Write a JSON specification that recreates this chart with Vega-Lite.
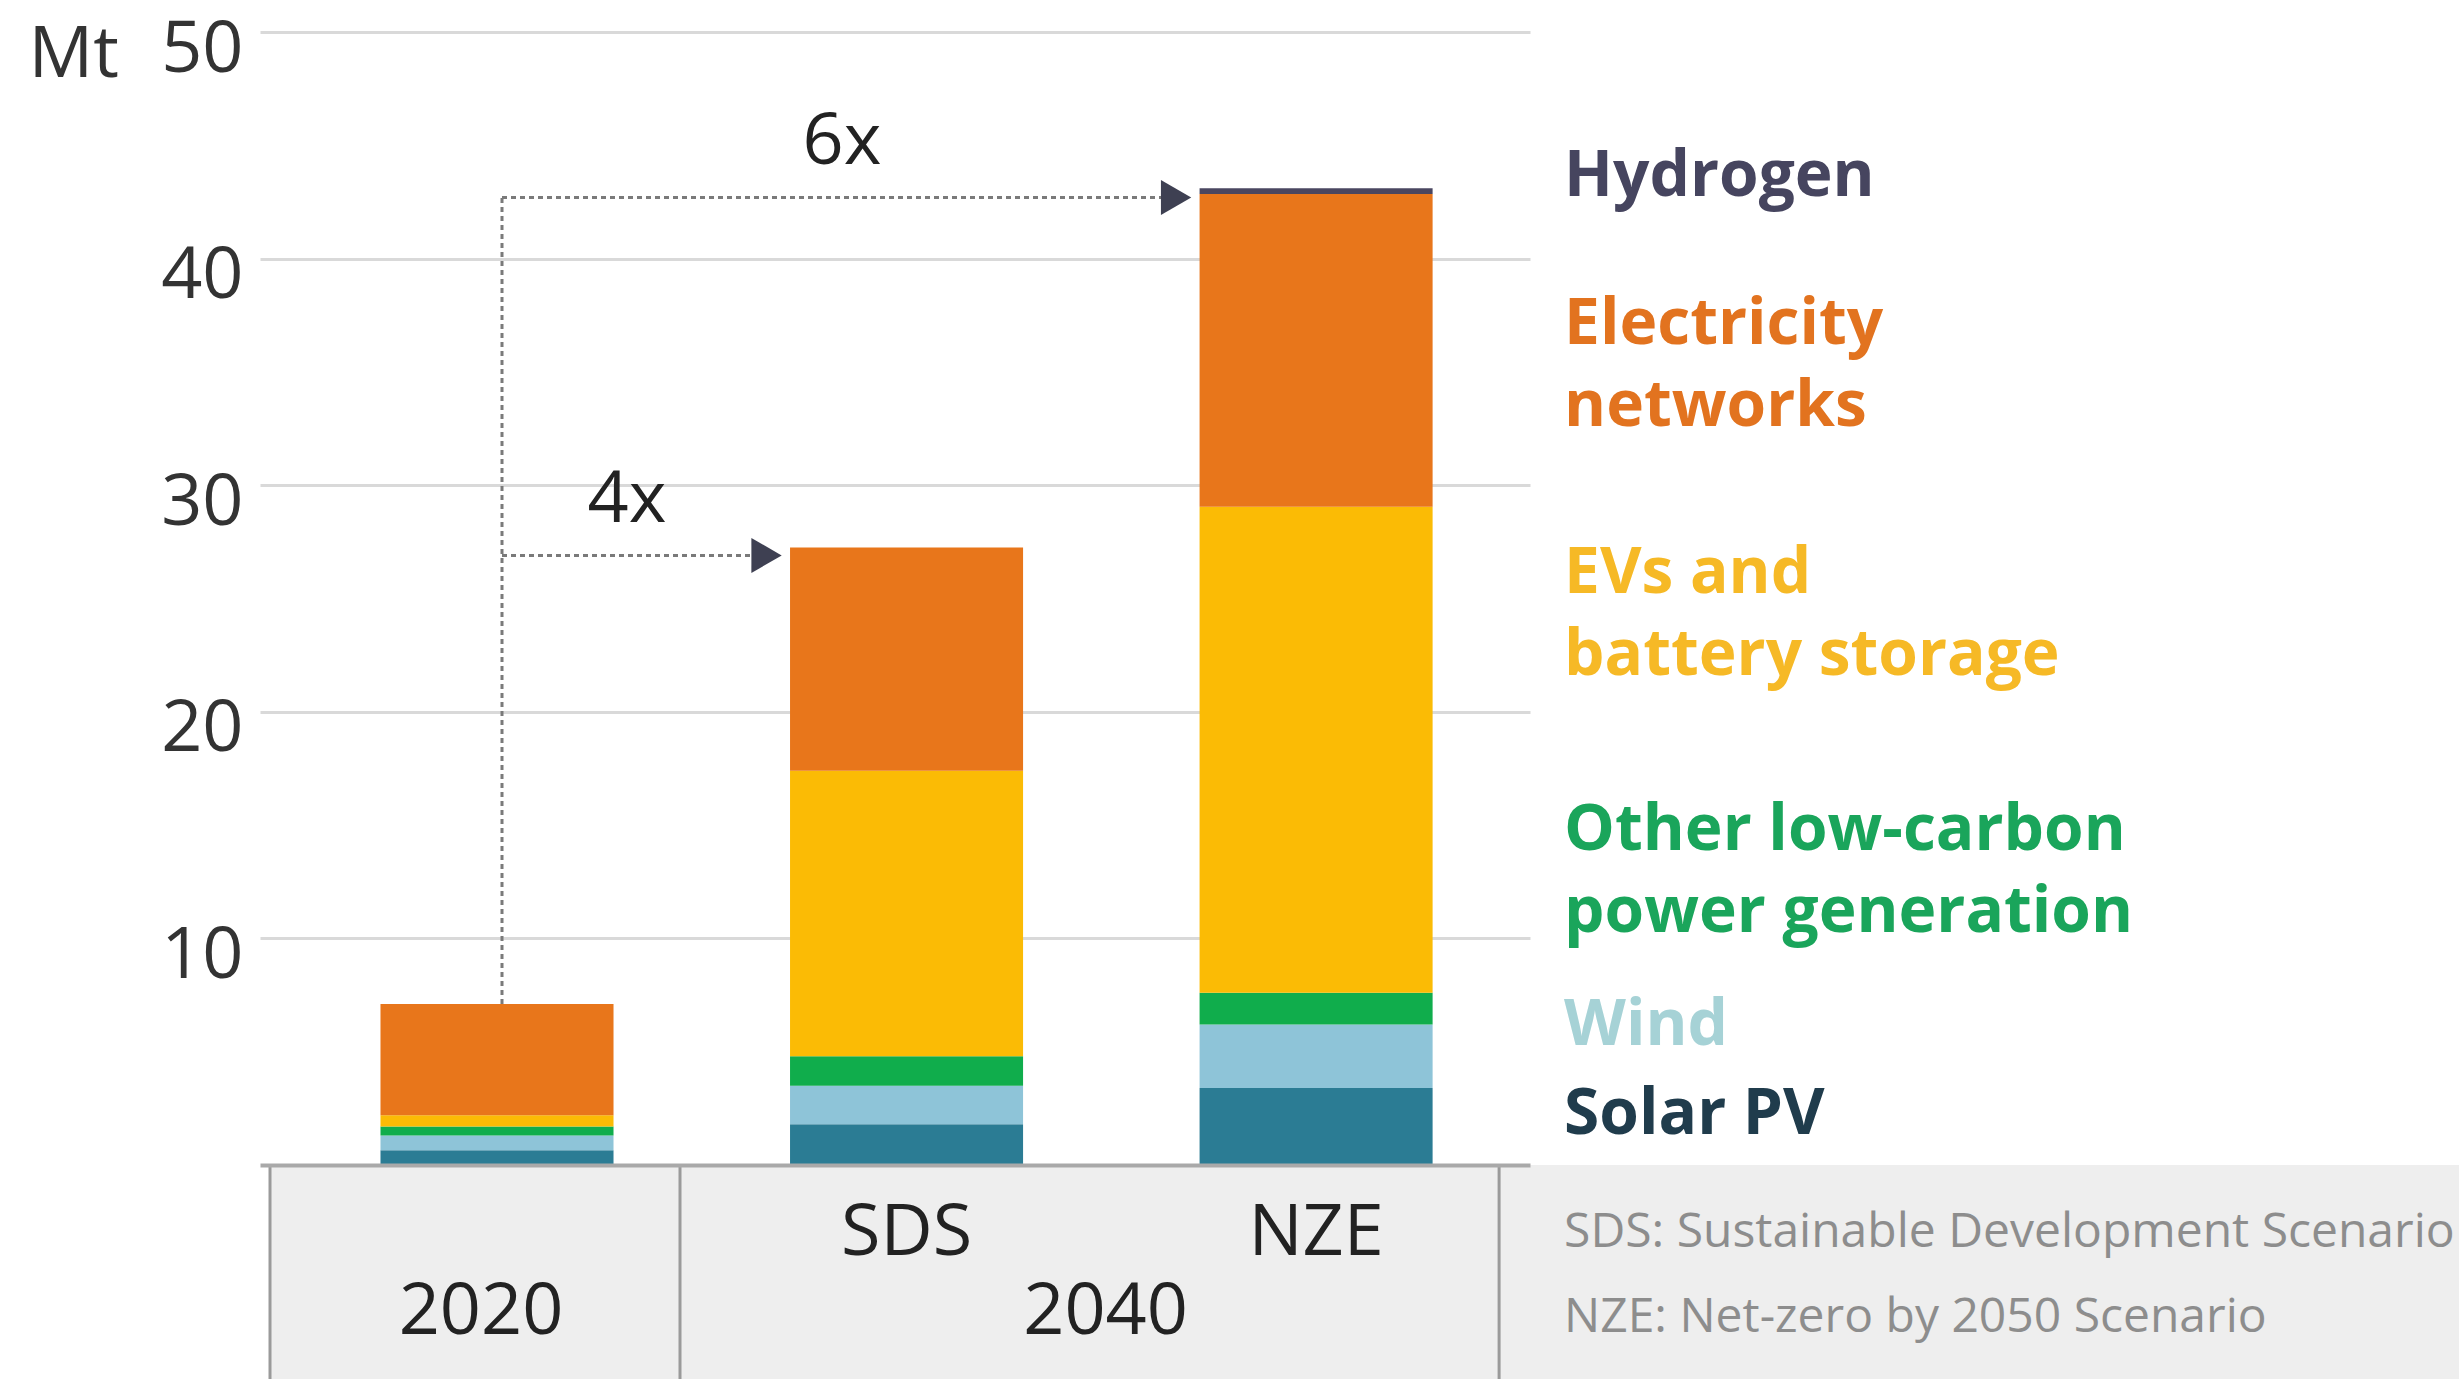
{
  "$schema": "https://vega.github.io/schema/vega-lite/v6.json",
  "width": 1270,
  "height": 1133,
  "autosize": {"type": "none"},
  "padding": {"left": 260, "top": 32, "right": 929, "bottom": 214},
  "background": "#ffffff",
  "config": {"view": {"stroke": null}, "font": "Open Sans"},
  "datasets": {
    "mass": [
      {"bar": "2020", "series": "Solar PV", "mt": 0.65},
      {"bar": "2020", "series": "Wind", "mt": 0.65},
      {"bar": "2020", "series": "Other low-carbon power generation", "mt": 0.4},
      {"bar": "2020", "series": "EVs and battery storage", "mt": 0.5},
      {"bar": "2020", "series": "Electricity networks", "mt": 4.9},
      {"bar": "SDS", "series": "Solar PV", "mt": 1.8},
      {"bar": "SDS", "series": "Wind", "mt": 1.7},
      {"bar": "SDS", "series": "Other low-carbon power generation", "mt": 1.3},
      {"bar": "SDS", "series": "EVs and battery storage", "mt": 12.6},
      {"bar": "SDS", "series": "Electricity networks", "mt": 9.85},
      {"bar": "NZE", "series": "Solar PV", "mt": 3.4},
      {"bar": "NZE", "series": "Wind", "mt": 2.8},
      {"bar": "NZE", "series": "Other low-carbon power generation", "mt": 1.4},
      {"bar": "NZE", "series": "EVs and battery storage", "mt": 21.45},
      {"bar": "NZE", "series": "Electricity networks", "mt": 13.8},
      {"bar": "NZE", "series": "Hydrogen", "mt": 0.25}
    ],
    "arrows": [
      {"label": "4x", "from": "2020", "to": "SDS", "level": 26.9},
      {"label": "6x", "from": "2020", "to": "NZE", "level": 42.7}
    ],
    "riser": [{"bar": "2020", "base": 7.1, "top": 42.7}],
    "legend": [
      {"series": "Hydrogen", "label": "Hydrogen", "at": 43.6},
      {"series": "Electricity networks", "label": "Electricity\nnetworks", "at": 37.07},
      {"series": "EVs and battery storage", "label": "EVs and\nbattery storage", "at": 26.08},
      {"series": "Other low-carbon power generation", "label": "Other low-carbon\npower generation", "at": 14.74},
      {"series": "Wind", "label": "Wind", "at": 6.13},
      {"series": "Solar PV", "label": "Solar PV", "at": 2.2}
    ],
    "notes": [
      {"note": "SDS: Sustainable Development Scenario", "at": -3.0},
      {"note": "NZE: Net-zero by 2050 Scenario", "at": -6.75}
    ]
  },
  "resolve": {"scale": {"color": "independent"}},
  "layer": [
    {
      "data": {"name": "mass"},
      "transform": [
        {"calculate": "indexof(['Solar PV', 'Wind', 'Other low-carbon power generation', 'EVs and battery storage', 'Electricity networks', 'Hydrogen'], datum.series)", "as": "stackIndex"}
      ],
      "mark": {"type": "bar"},
      "encoding": {
        "x": {
          "field": "bar",
          "type": "nominal",
          "scale": {"domain": ["2020", "SDS", "NZE"], "paddingInner": 0.431, "paddingOuter": 0.266, "align": 0.553},
          "axis": {
            "title": null,
            "orient": "bottom",
            "zindex": 1,
            "ticks": false,
            "tickSize": 0,
            "grid": false,
            "domainColor": "#a9a9a9",
            "domainWidth": 4,
            "labelAngle": 0,
            "labelFontSize": 72,
            "labelColor": "#222222",
            "labelBaseline": "middle",
            "labelPadding": 67,
            "labelExpr": "datum.value == '2020' ? '' : datum.value"
          }
        },
        "y": {
          "field": "mt",
          "type": "quantitative",
          "stack": "zero",
          "scale": {"domain": [0, 50], "nice": false},
          "axis": {
            "values": [10, 20, 30, 40, 50],
            "grid": true,
            "gridColor": "#d9d9d9",
            "gridWidth": 3,
            "domain": false,
            "ticks": false,
            "tickSize": 0,
            "labelFontSize": 72,
            "labelColor": "#333333",
            "labelPadding": 17,
            "labelOffset": 17,
            "labelBaseline": "middle",
            "labelFlush": false,
            "title": "Mt",
            "titleAngle": 0,
            "titleX": -232,
            "titleY": 22,
            "titleAlign": "left",
            "titleBaseline": "middle",
            "titleFontSize": 72,
            "titleFontWeight": "normal",
            "titleColor": "#333333"
          }
        },
        "order": {"field": "stackIndex", "type": "quantitative", "sort": "ascending"},
        "color": {
          "field": "series",
          "type": "nominal",
          "scale": {
            "domain": ["Solar PV", "Wind", "Other low-carbon power generation", "EVs and battery storage", "Electricity networks", "Hydrogen"],
            "range": ["#2b7c94", "#8ec4d8", "#10ad4c", "#fbbb05", "#e8761b", "#4a4660"]
          },
          "legend": null
        }
      }
    },
    {
      "description": "grey table band under the baseline",
      "data": {"values": [{"from": "2020", "to": "NZE"}]},
      "mark": {"type": "rect", "color": "#eeeeee", "xOffset": -227, "x2Offset": 1143},
      "encoding": {
        "x": {"field": "from", "type": "nominal"},
        "x2": {"field": "to"},
        "y": {"datum": 0, "type": "quantitative"},
        "y2": {"datum": -10}
      }
    },
    {
      "description": "left edge of the category table",
      "data": {"values": [{"bar": "2020"}]},
      "mark": {"type": "rule", "color": "#9a9a9a", "strokeWidth": 3, "xOffset": -227},
      "encoding": {
        "x": {"field": "bar", "type": "nominal"},
        "y": {"datum": 0, "type": "quantitative"},
        "y2": {"datum": -10}
      }
    },
    {
      "description": "right edges of the 2020 and 2040 groups",
      "data": {"values": [{"bar": "2020"}, {"bar": "NZE"}]},
      "mark": {"type": "rule", "color": "#9a9a9a", "strokeWidth": 3, "xOffset": 183},
      "encoding": {
        "x": {"field": "bar", "type": "nominal"},
        "y": {"datum": 0, "type": "quantitative"},
        "y2": {"datum": -10}
      }
    },
    {
      "data": {"name": "riser"},
      "mark": {"type": "rule", "color": "#7a7a7a", "strokeWidth": 3, "strokeDash": [5, 4], "xOffset": 5},
      "encoding": {
        "x": {"field": "bar", "type": "nominal"},
        "y": {"field": "base", "type": "quantitative"},
        "y2": {"field": "top"}
      }
    },
    {
      "data": {"name": "arrows"},
      "mark": {"type": "rule", "color": "#7a7a7a", "strokeWidth": 3, "strokeDash": [5, 4], "xOffset": 5, "x2Offset": -152},
      "encoding": {
        "x": {"field": "from", "type": "nominal"},
        "x2": {"field": "to"},
        "y": {"field": "level", "type": "quantitative"}
      }
    },
    {
      "data": {"name": "arrows"},
      "mark": {"type": "point", "shape": "triangle-right", "size": 1225, "filled": true, "opacity": 1, "color": "#3e4052", "xOffset": -140},
      "encoding": {
        "x": {"field": "to", "type": "nominal"},
        "y": {"field": "level", "type": "quantitative"}
      }
    },
    {
      "data": {"name": "arrows"},
      "transform": [{"filter": "datum.label == '4x'"}],
      "mark": {"type": "text", "fontSize": 72, "color": "#222222", "baseline": "middle", "align": "center", "dx": 130, "dy": -55},
      "encoding": {
        "x": {"field": "from", "type": "nominal"},
        "y": {"field": "level", "type": "quantitative"},
        "text": {"field": "label"}
      }
    },
    {
      "data": {"name": "arrows"},
      "transform": [{"filter": "datum.label == '6x'"}],
      "mark": {"type": "text", "fontSize": 72, "color": "#222222", "baseline": "middle", "align": "center", "dx": 345, "dy": -55},
      "encoding": {
        "x": {"field": "from", "type": "nominal"},
        "y": {"field": "level", "type": "quantitative"},
        "text": {"field": "label"}
      }
    },
    {
      "data": {"values": [{"bar": "2020", "year": "2020"}]},
      "mark": {"type": "text", "fontSize": 72, "color": "#222222", "baseline": "middle", "align": "center", "dx": -16},
      "encoding": {
        "x": {"field": "bar", "type": "nominal"},
        "y": {"datum": -6.5, "type": "quantitative"},
        "text": {"field": "year"}
      }
    },
    {
      "data": {"values": [{"bar": "SDS", "year": "2040"}]},
      "mark": {"type": "text", "fontSize": 72, "color": "#222222", "baseline": "middle", "align": "center", "dx": 199},
      "encoding": {
        "x": {"field": "bar", "type": "nominal"},
        "y": {"datum": -6.5, "type": "quantitative"},
        "text": {"field": "year"}
      }
    },
    {
      "data": {"name": "legend"},
      "mark": {"type": "text", "fontSize": 64, "fontWeight": "bold", "baseline": "middle", "align": "left", "dx": 248, "lineBreak": "\n", "lineHeight": 82},
      "encoding": {
        "x": {"datum": "NZE", "type": "nominal"},
        "y": {"field": "at", "type": "quantitative"},
        "text": {"field": "label"},
        "color": {
          "field": "series",
          "type": "nominal",
          "scale": {
            "domain": ["Solar PV", "Wind", "Other low-carbon power generation", "EVs and battery storage", "Electricity networks", "Hydrogen"],
            "range": ["#203c4c", "#a6d2d6", "#1aa55b", "#f6b926", "#e2731f", "#46455f"]
          },
          "legend": null
        }
      }
    },
    {
      "data": {"name": "notes"},
      "mark": {"type": "text", "fontSize": 48, "color": "#8d8d8d", "baseline": "middle", "align": "left", "dx": 248},
      "encoding": {
        "x": {"datum": "NZE", "type": "nominal"},
        "y": {"field": "at", "type": "quantitative"},
        "text": {"field": "note"}
      }
    }
  ]
}
